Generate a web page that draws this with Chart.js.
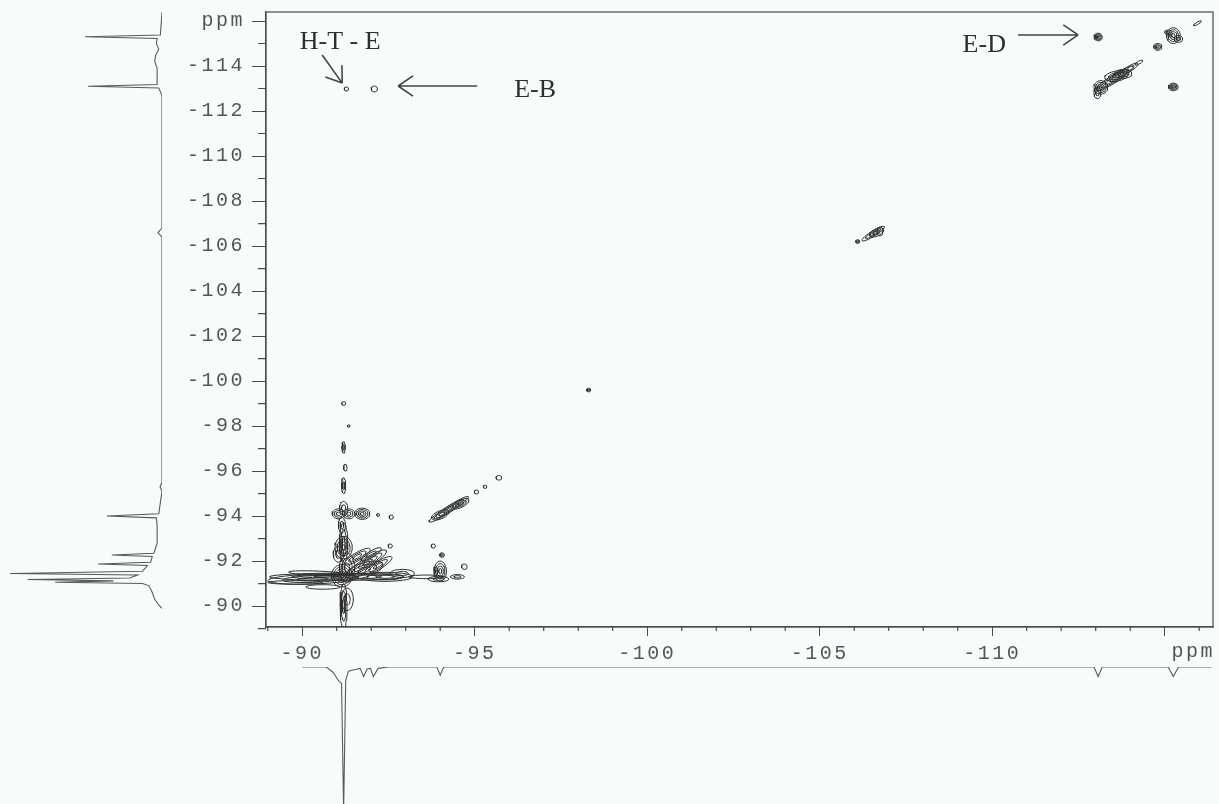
<!DOCTYPE html>
<html>
<head>
<meta charset="utf-8">
<title>19F-19F COSY</title>
<script src="https://cdn.jsdelivr.net/npm/chart.js@4.4.1/dist/chart.umd.min.js"></script>
<style>
  html, body { margin: 0; padding: 0; background: #f8fbfc; }
  #wrap { position: relative; width: 1219px; height: 804px; overflow: hidden; }
  canvas { position: absolute; }
</style>
</head>
<body>
<div id="wrap">
  <canvas id="side" width="170" height="680" style="left:0;top:0"></canvas>
  <canvas id="bottom" width="1219" height="154" style="left:0;top:650px"></canvas>
  <canvas id="main" width="1219" height="680" style="left:0;top:0"></canvas>
</div>
<script>
// ppm ranges of the 2D plot (both axes run high field to the right / top)
const xRange = [-116.4, -88.95]
const yRange = [-116.4, -89.07]
const xTickLabels = [-90, -95, -100, -105, -110]
const yTickLabels = [-90, -92, -94, -96, -98, -100, -102, -104, -106, -108, -110, -112, -114]
const unitLabel = 'ppm'

// contour peaks: [x ppm, y ppm, half length a, half width b, angle deg, levels]
const crossPeaks = [
  [-91.0, -91.3, 1.95, 0.16, 0, 3],
  [-90.3, -91.2, 1.3, 0.22, 3, 3],
  [-89.8, -91.05, 0.8, 0.08, 0, 1],
  [-90.5, -91.45, 0.9, 0.1, -4, 1],
  [-92.4, -91.3, 0.8, 0.2, 0, 3],
  [-92.9, -91.45, 0.35, 0.18, 0, 2],
  [-91.15, -91.35, 0.3, 0.5, 0, 5],
  [-91.3, -91.7, 0.22, 0.65, 0, 3],
  [-91.2, -92.6, 0.25, 0.5, 0, 4],
  [-91.05, -92.3, 0.15, 0.35, 0, 2],
  [-91.9, -91.95, 0.75, 0.18, 45, 4],
  [-92.2, -91.8, 0.55, 0.15, 45, 3],
  [-91.6, -92.2, 0.5, 0.15, 45, 3],
  [-91.8, -91.6, 0.6, 0.3, 30, 3],
  [-92.0, -92.3, 0.4, 0.12, 45, 2],
  [-91.2, -92.8, 0.12, 0.9, 0, 3],
  [-91.2, -90.0, 0.1, 1.0, 0, 3],
  [-91.3, -90.3, 0.18, 0.5, 0, 2],
  [-91.15, -93.6, 0.1, 0.35, 0, 2],
  [-90.6, -90.85, 0.5, 0.1, 0, 1]
]
const lowFieldPeaks = [
  [-91.05, -94.1, 0.18, 0.22, 0, 3],
  [-91.35, -94.1, 0.18, 0.22, 0, 3],
  [-91.2, -94.35, 0.12, 0.3, 0, 2],
  [-91.74, -94.1, 0.22, 0.25, 0, 4],
  [-92.2, -94.05, 0.04, 0.06, 0, 1],
  [-92.58, -93.95, 0.06, 0.09, 0, 1],
  [-92.55, -92.67, 0.06, 0.09, 0, 1],
  [-91.2, -95.35, 0.06, 0.35, 0, 2],
  [-91.25, -96.15, 0.05, 0.15, 0, 1],
  [-91.2, -97.05, 0.05, 0.25, 0, 2],
  [-91.35, -98.0, 0.04, 0.05, 0, 1],
  [-91.2, -99.0, 0.06, 0.08, 0, 1],
  [-94.0, -91.55, 0.18, 0.45, 0, 4],
  [-93.95, -91.2, 0.3, 0.12, 0, 2],
  [-94.5, -91.3, 0.2, 0.1, 0, 2],
  [-94.7, -91.75, 0.08, 0.12, 0, 1],
  [-93.8, -92.67, 0.06, 0.09, 0, 1],
  [-94.05, -92.27, 0.07, 0.1, 0, 2],
  [-93.6, -91.3, 0.5, 0.08, 0, 1],
  [-94.25, -94.3, 0.8, 0.12, 45, 4],
  [-94.6, -94.55, 0.3, 0.14, 45, 3],
  [-94.0, -94.05, 0.3, 0.16, 40, 2],
  [-95.05, -95.07, 0.06, 0.09, 0, 1],
  [-95.3, -95.3, 0.05, 0.07, 0, 1],
  [-95.7, -95.7, 0.08, 0.1, 0, 1],
  [-98.3, -99.6, 0.06, 0.08, 0, 2]
]
const highFieldPeaks = [
  [-106.55, -106.55, 0.45, 0.1, 45, 3],
  [-106.65, -106.6, 0.25, 0.14, 45, 2],
  [-106.1, -106.2, 0.06, 0.08, 0, 2],
  [-106.75, -106.65, 0.08, 0.2, 0, 1],
  [-91.28, -112.98, 0.06, 0.09, 0, 1],
  [-92.09, -112.98, 0.09, 0.13, 0, 1],
  [-113.07, -115.29, 0.12, 0.17, 0, 4],
  [-115.25, -113.07, 0.14, 0.17, 0, 4],
  [-113.55, -113.45, 0.75, 0.15, 45, 4],
  [-113.15, -113.05, 0.2, 0.3, 0, 4],
  [-113.05, -112.8, 0.1, 0.25, 0, 2],
  [-113.8, -113.65, 0.25, 0.2, 0, 3],
  [-113.6, -113.55, 0.35, 0.22, 20, 3],
  [-114.0, -113.9, 0.3, 0.1, 45, 2],
  [-114.25, -114.15, 0.15, 0.05, 45, 1],
  [-114.8, -114.85, 0.12, 0.15, 0, 3],
  [-115.25, -115.35, 0.2, 0.35, 0, 4],
  [-115.1, -115.5, 0.1, 0.1, 0, 2],
  [-115.4, -115.2, 0.12, 0.15, 0, 2],
  [-115.95, -115.9, 0.15, 0.04, 45, 1]
]

// 1D projections
const sidePpm = [-116.4, -115.38, -115.3, -115.22, -115.0, -114.75, -114.45, -114.2, -113.9, -113.5, -113.18, -113.1, -113.02, -112.7,
  -106.8, -106.6, -106.4, -95.5, -95.3, -95.1, -94.1, -94.0, -93.92, -93.6, -92.8, -92.35, -92.27, -92.2, -91.95, -91.87, -91.8,
  -91.55, -91.45, -91.38, -91.25, -91.18, -91.12, -91.06, -91.0, -90.9, -90.6, -90.3, -90.05, -89.9]
const sideInt = [0, 0.01, 0.475, 0.03, 0.035, 0.02, 0.04, 0.045, 0.03, 0.03, 0.03, 0.457, 0.02, 0,
  0, 0.025, 0, 0, 0.012, 0, 0.02, 0.34, 0.035, 0.03, 0.03, 0.05, 0.31, 0.06, 0.07, 0.395, 0.09,
  0.12, 0.938, 0.15, 0.2, 0.83, 0.3, 0.66, 0.12, 0.08, 0.06, 0.045, 0.02, 0]
const bottomPpm = [-90.0, -90.7, -90.9, -91.05, -91.14, -91.2, -91.26, -91.34, -91.5, -91.68, -91.78, -91.88, -91.98, -92.06, -92.2, -92.5,
  -93.9, -94.0, -94.1, -112.95, -113.07, -113.19, -115.1, -115.25, -115.4, -116.35]
const bottomInt = [0, 0, -0.04, -0.1, -0.12, -1.05, -0.1, -0.03, -0.02, -0.01, -0.07, -0.015, -0.01, -0.07, -0.01, 0,
  0, -0.06, 0, 0, -0.07, 0, 0, -0.07, 0, 0]

// assignments written on the spectrum
const noteTexts = [['H-T - E', -91.1, -115.07], ['E-B', -96.75, -112.93], ['E-D', -109.77, -114.93]]
const noteArrows = [[-90.58, -114.49, -91.16, -113.24], [-95.07, -113.11, -92.78, -113.11], [-110.75, -115.38, -112.49, -115.38]]

const ink = '#2e2e2e'
const tickFont = {family: "'Liberation Mono', 'DejaVu Sans Mono', monospace", size: 20}

function ellipseRings(p) {
  const [cx, cy, a, b, ang, levels] = p
  const rad = ang * Math.PI / 180
  const pts = []
  for (let k = 0; k < levels; k++) {
    const s = 1 - k / levels
    for (let i = 0; i <= 28; i++) {
      const t = i / 28 * 2 * Math.PI
      const u = a * s * Math.cos(t), w = b * s * Math.sin(t)
      pts.push({x: cx + u * Math.cos(rad) - w * Math.sin(rad), y: cy + u * Math.sin(rad) + w * Math.cos(rad)})
    }
    pts.push({x: null, y: null})
  }
  return pts
}

const contourSets = crossPeaks.concat(lowFieldPeaks, highFieldPeaks).map(p => ({
  data: ellipseRings(p),
  showLine: true,
  spanGaps: false,
  borderColor: ink,
  borderWidth: 1,
  pointRadius: 0
}))

const quiet = {legend: {display: false}, tooltip: {enabled: false}}

// frame, minor ticks, unit label and the assignments
const framePlugin = {
  id: 'frame',
  beforeDraw(chart) { chart.ctx.letterSpacing = '2.5px' },
  afterDraw(chart) {
    const {ctx, chartArea: a, scales: {x, y}} = chart
    ctx.save()
    ctx.strokeStyle = '#4a4a4a'
    ctx.lineWidth = 1.2
    ctx.strokeRect(a.left, a.top, a.right - a.left, a.bottom - a.top)
    ctx.beginPath()
    for (let v = -116; v <= -89; v++) {
      if (v % 5 !== 0) {
        const px = x.getPixelForValue(v)
        ctx.moveTo(px, a.bottom); ctx.lineTo(px, a.bottom + 4)
      }
      if (v % 2 !== 0) {
        const py = y.getPixelForValue(v)
        ctx.moveTo(a.left - 8, py); ctx.lineTo(a.left, py)
      }
    }
    ctx.stroke()

    ctx.fillStyle = '#555'
    ctx.font = `${tickFont.size}px ${tickFont.family}`
    ctx.textAlign = 'right'
    ctx.textBaseline = 'top'
    ctx.fillText(unitLabel, a.right + 2, a.bottom + 15)

    ctx.letterSpacing = '0px'
    ctx.fillStyle = ink
    ctx.font = "26px 'Liberation Serif', 'Times New Roman', serif"
    ctx.textAlign = 'center'
    ctx.textBaseline = 'middle'
    noteTexts.forEach(([t, vx, vy]) => ctx.fillText(t, x.getPixelForValue(vx), y.getPixelForValue(vy)))

    ctx.strokeStyle = '#444'
    ctx.lineWidth = 1.6
    noteArrows.forEach(([x1, y1, x2, y2]) => {
      const p1 = [x.getPixelForValue(x1), y.getPixelForValue(y1)]
      const p2 = [x.getPixelForValue(x2), y.getPixelForValue(y2)]
      const ang = Math.atan2(p2[1] - p1[1], p2[0] - p1[0])
      ctx.beginPath()
      ctx.moveTo(p1[0], p1[1]); ctx.lineTo(p2[0], p2[1])
      for (const d of [-0.6, 0.6]) {
        ctx.moveTo(p2[0], p2[1])
        ctx.lineTo(p2[0] - 18 * Math.cos(ang + d), p2[1] - 18 * Math.sin(ang + d))
      }
      ctx.stroke()
    })
    ctx.restore()
  }
}

new Chart(document.getElementById('main'), {
  type: 'scatter',
  data: {datasets: contourSets},
  options: {
    responsive: false,
    animation: false,
    layout: {padding: {left: 0, right: 6, top: 12, bottom: 0}},
    plugins: quiet,
    scales: {
      x: {
        type: 'linear', reverse: true, min: xRange[0], max: xRange[1],
        afterFit: s => { s.height = 53; s.paddingLeft = 0; s.paddingRight = 0 },
        border: {color: '#4a4a4a', width: 1.2},
        grid: {drawOnChartArea: false, tickLength: 9, color: '#4a4a4a'},
        ticks: {
          stepSize: 5, includeBounds: false, autoSkip: false, maxRotation: 0, padding: 6,
          color: '#555', font: tickFont,
          callback: v => xTickLabels.includes(v) ? String(v) : ''
        }
      },
      y: {
        type: 'linear', reverse: true, min: yRange[0], max: yRange[1],
        afterFit: s => { s.width = 266; s.paddingTop = 0; s.paddingBottom = 0 },
        border: {color: '#4a4a4a', width: 1.2},
        grid: {drawOnChartArea: false, tickLength: 14, color: '#4a4a4a'},
        ticks: {
          stepSize: 2, includeBounds: false, autoSkip: false, padding: 7,
          color: '#555', font: tickFont,
          callback: v => v === -116 ? unitLabel : (yTickLabels.includes(v) ? String(v) : '')
        }
      }
    }
  },
  plugins: [framePlugin]
})

// vertical projection on the left
new Chart(document.getElementById('side'), {
  type: 'scatter',
  data: {datasets: [{
    data: sidePpm.map((p, i) => ({x: sideInt[i], y: p})),
    showLine: true, borderColor: '#5a5a5a', borderWidth: 1.1, pointRadius: 0
  }]},
  options: {
    responsive: false,
    animation: false,
    layout: {padding: {left: 0, right: 8, top: 12, bottom: 53}},
    plugins: quiet,
    scales: {
      x: {display: false, min: 0, max: 1, reverse: true},
      y: {display: false, min: yRange[0], max: yRange[1], reverse: true}
    }
  }
})

// horizontal projection below
new Chart(document.getElementById('bottom'), {
  type: 'scatter',
  data: {datasets: [{
    data: bottomPpm.map((p, i) => ({x: p, y: bottomInt[i]})),
    showLine: true, borderColor: '#5a5a5a', borderWidth: 1.1, pointRadius: 0
  }]},
  options: {
    responsive: false,
    animation: false,
    layout: {padding: {left: 266, right: 6, top: 17, bottom: 0}},
    plugins: quiet,
    scales: {
      x: {display: false, min: xRange[0], max: xRange[1], reverse: true},
      y: {display: false, min: -1, max: 0}
    }
  }
})
</script>
</body>
</html>
